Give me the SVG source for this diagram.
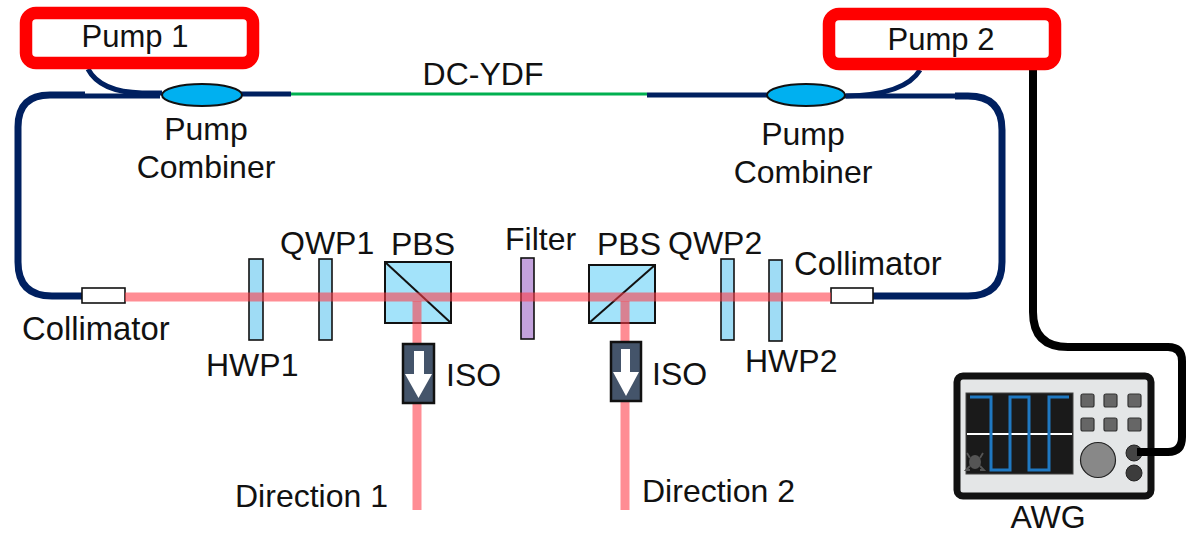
<svg xmlns="http://www.w3.org/2000/svg" width="1194" height="535" viewBox="0 0 1194 535">
<style>
text{font-family:"Liberation Sans",Arial,sans-serif;font-size:32px;fill:#111}
.p{font-size:31px}
.c{font-size:32.800px}
.m{text-anchor:middle}
.fiber{fill:none;stroke:#002060;stroke-width:7}
.thin{fill:none;stroke:#002060;stroke-width:5}
.beam{fill:none;stroke:#ff3a46;stroke-opacity:.58;stroke-width:9}
.pump{fill:#fff;stroke:#f00;stroke-width:12.500}
.wp{fill:#9fdcf5;stroke:#111;stroke-width:1.600}
.pbs{fill:#a3e3fa;stroke:#111;stroke-width:2}
.iso{fill:#44546a;stroke:#111;stroke-width:2.500}
.comb{fill:#00b0f0;stroke:#111;stroke-width:2}
.btn{fill:#666;stroke:#333;stroke-width:1.200}
</style>
<g id="connectors">
<path class="fiber" d="M85 95H50Q18 95 18 127V262Q18 296 52 296H84"/>
<path class="fiber" d="M955 96H968Q1002 96 1002 130V262Q1002 296 968 296H872"/>
<path class="thin" d="M85 96H160"/>
<path class="thin" d="M240 94H291"/>
<path class="thin" d="M88 69Q100 92 142 93H162"/>
<path class="thin" d="M647 95H770"/>
<path class="thin" d="M844 96H955"/>
<path class="thin" d="M920 70Q905 95 846 96"/>
<path fill="none" stroke="#00b050" stroke-width="3" d="M291 94H647"/>
<path fill="none" stroke="#000" stroke-width="8" d="M1033 68V312Q1033 347 1068 347H1168Q1182 347 1182 361V437Q1182 452 1168 452H1135"/>
</g>
<g id="pump1"><rect class="pump" x="26" y="13" width="227" height="50" rx="10"/><text class="m p" x="135" y="47">Pump 1</text></g>
<g id="pump2"><rect class="pump" x="829" y="14" width="226" height="50" rx="10"/><text class="m p" x="941" y="50">Pump 2</text></g>
<g id="combiner1"><ellipse class="comb" cx="202" cy="95" rx="40" ry="11"/><text class="m" x="206" y="140">Pump</text><text class="m" x="206" y="178">Combiner</text></g>
<g id="combiner2"><ellipse class="comb" cx="806" cy="95" rx="39" ry="11"/><text class="m" x="803" y="145">Pump</text><text class="m" x="803" y="183">Combiner</text></g>
<text id="dcydf" class="m" x="483" y="85">DC-YDF</text>
<g id="optics">
<rect class="wp" x="249" y="259" width="14" height="81"/>
<rect class="wp" x="319" y="259" width="13" height="81"/>
<rect class="wp" x="721" y="259" width="13" height="81"/>
<rect class="wp" x="769" y="260" width="13" height="81"/>
<rect x="521" y="258" width="13" height="81" fill="#c3a2dc" stroke="#111" stroke-width="1.600"/>
<rect class="pbs" x="385" y="262" width="66" height="61"/><path d="M385 262L451 323" stroke="#111" stroke-width="2"/>
<rect class="pbs" x="589" y="265" width="66" height="58"/><path d="M589 323L655 265" stroke="#111" stroke-width="2"/>
</g>
<g id="collimators">
<rect x="82" y="288" width="43" height="15" fill="#fff" stroke="#111" stroke-width="1.600"/>
<rect x="831" y="288" width="42" height="15" fill="#fff" stroke="#111" stroke-width="1.600"/>
</g>
<g id="beams">
<path class="beam" d="M125 297H831"/>
<path class="beam" d="M417 301V510"/>
<path class="beam" d="M625 301V510"/>
</g>
<g id="iso1"><rect class="iso" x="403" y="344" width="31" height="59"/><path fill="#fff" d="M414 351H424V374H432L418.500 398L405 374H414Z"/><text x="446" y="386">ISO</text></g>
<g id="iso2"><rect class="iso" x="611" y="342" width="30" height="59"/><path fill="#fff" d="M621 349H630V372H639L626 396L613 372H621Z"/><text x="652" y="385">ISO</text></g>
<g id="labels">
<text x="280" y="254">QWP1</text>
<text x="391" y="255">PBS</text>
<text x="505" y="250">Filter</text>
<text x="597" y="255">PBS</text>
<text x="668" y="254">QWP2</text>
<text class="c" x="794" y="275">Collimator</text>
<text class="c" x="22" y="340">Collimator</text>
<text x="206" y="376">HWP1</text>
<text x="745" y="372">HWP2</text>
<text x="235" y="507">Direction 1</text>
<text x="642" y="502">Direction 2</text>
<text class="m" x="1048" y="528">AWG</text>
</g>
<g id="awg">
<rect x="957" y="376" width="194" height="120" rx="6" fill="#e4e6e7" stroke="#111" stroke-width="7"/>
<rect x="966" y="393" width="107" height="81" fill="#1a1a1a" stroke="#444" stroke-width="1"/>
<path d="M967 434H1072" stroke="#fff" stroke-width="2"/>
<path fill="none" stroke="#1f78c1" stroke-width="3" d="M970 397H991V470H1010V397H1029V470H1049V397H1069"/>
<ellipse cx="975" cy="462" rx="6" ry="7" fill="#555"/>
<path fill="none" stroke="#555" stroke-width="1.800" d="M970 458L967 453M980 458L983 453M970 466L966 470H970M980 466L984 470H980"/>
<rect class="btn" x="1081" y="394" width="13" height="13" rx="2"/><rect class="btn" x="1104" y="394" width="13" height="13" rx="2"/><rect class="btn" x="1128" y="394" width="13" height="13" rx="2"/>
<rect class="btn" x="1081" y="418" width="13" height="13" rx="2"/><rect class="btn" x="1104" y="418" width="13" height="13" rx="2"/><rect class="btn" x="1128" y="418" width="13" height="13" rx="2"/>
<circle cx="1098" cy="460" r="17.500" fill="#888" stroke="#222" stroke-width="1.200"/>
<circle cx="1134" cy="453" r="8" fill="#444" stroke="#222"/>
<circle cx="1134" cy="473" r="8" fill="#3c3c3c" stroke="#222"/>
</g>
<path id="awg-cable-end" fill="none" stroke="#000" stroke-width="8" d="M1168 452H1137"/>
</svg>
